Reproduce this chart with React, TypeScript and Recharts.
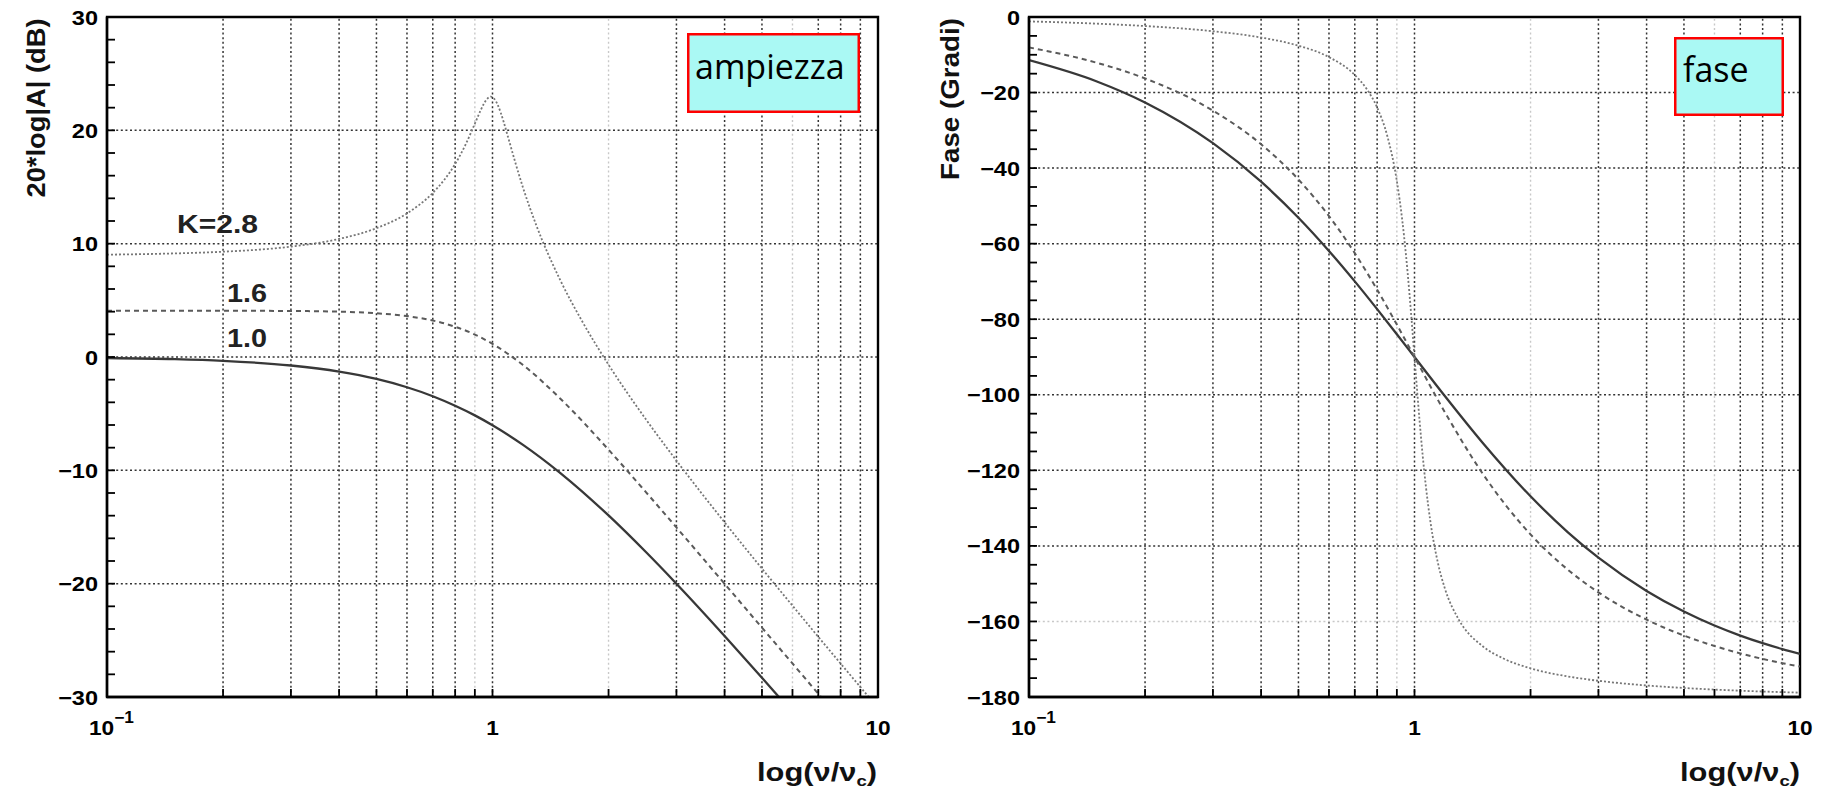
import React from 'react';
import { LineChart, Line, XAxis, YAxis, ReferenceLine, ReferenceArea } from 'recharts';

// ---- data ----
const freqA = [0.1, 0.15, 0.2, 0.3, 0.4, 0.5, 0.6, 0.7, 0.8, 0.9, 1.0, 1.2, 1.5, 2, 2.5, 3, 4, 5, 6, 7, 8, 9, 10];
const ampK10 = [-0.09, -0.19, -0.34, -0.75, -1.29, -1.94, -2.67, -3.46, -4.3, -5.15, -6.02, -7.75, -10.24, -13.98, -17.21, -20.0, -24.61, -28.3, -31.36, -33.98, -36.26, -38.28, -40.09];
const phaseK10 = [-11.42, -17.06, -22.62, -33.4, -43.6, -53.13, -61.93, -69.98, -77.32, -83.97, -90, -100.39, -112.62, -126.87, -136.4, -143.13, -151.93, -157.38, -161.08, -163.74, -165.75, -167.32, -168.58];
const ampK16 = [4.08, 4.08, 4.08, 4.06, 4.0, 3.86, 3.61, 3.22, 2.67, 1.98, 1.16, -0.71, -3.68, -8.18, -11.92, -15.04, -20.01, -23.88, -27.04, -29.72, -32.04, -34.09, -35.92];
const phaseK16 = [-8.05, -12.12, -16.26, -24.78, -33.69, -43.03, -52.7, -62.51, -72.18, -81.42, -90, -104.68, -120.76, -136.97, -146.31, -152.3, -159.53, -163.74, -166.5, -168.46, -169.92, -171.05, -171.95];

const freqB = [0.1, 0.15, 0.2, 0.3, 0.4, 0.5, 0.6, 0.7, 0.75, 0.8, 0.85, 0.9, 0.93, 0.95, 0.97, 0.98, 0.99, 1.0, 1.01, 1.02, 1.03, 1.05, 1.07, 1.1, 1.15, 1.2, 1.3, 1.5, 1.7, 2, 2.5, 3, 4, 5, 6, 7, 8, 9, 10];
const ampK28 = [9.03, 9.14, 9.29, 9.74, 10.42, 11.37, 12.67, 14.48, 15.64, 17.03, 18.69, 20.59, 21.71, 22.35, 22.8, 22.92, 22.97, 22.92, 22.79, 22.58, 22.3, 21.57, 20.7, 19.28, 16.99, 14.94, 11.59, 6.76, 3.28, -0.68, -5.5, -9.14, -14.59, -18.67, -21.94, -24.69, -27.05, -29.12, -30.97];
const phaseK28 = [-1.16, -1.76, -2.39, -3.77, -5.44, -7.59, -10.62, -15.35, -18.92, -23.96, -31.49, -43.45, -54.0, -62.83, -73.06, -78.58, -84.26, -90, -95.68, -101.2, -106.47, -116.02, -124.1, -133.67, -144.5, -151.39, -159.35, -166.5, -169.8, -172.41, -174.56, -175.71, -176.95, -177.61, -178.04, -178.33, -178.55, -178.71, -178.84];

const kLabels = ['K=2.8', '1.6', '1.0'];

// ---- axes / ticks ----
const freqTicks = [0.1, 0.2, 0.3, 0.4, 0.5, 0.6, 0.7, 0.8, 0.9, 1, 2, 3, 4, 5, 6, 7, 8, 9, 10];
const freqGrid = [0.2, 0.3, 0.4, 0.5, 0.6, 0.7, 0.8, 0.9, 1, 2, 3, 4, 5, 6, 7, 8, 9];
const freqGridLight = [0.9, 2, 6];
const ampTicks = [-30, -28, -26, -24, -22, -20, -18, -16, -14, -12, -10, -8, -6, -4, -2, 0, 2, 4, 6, 8, 10, 12, 14, 16, 18, 20, 22, 24, 26, 28, 30];
const ampGrid = [20, 10, 0, -10, -20];
const phaseTicks = [-180, -175, -170, -165, -160, -155, -150, -145, -140, -135, -130, -125, -120, -115, -110, -105, -100, -95, -90, -85, -80, -75, -70, -65, -60, -55, -50, -45, -40, -35, -30, -25, -20, -15, -10, -5, 0];
const phaseGrid = [-20, -40, -60, -80, -100, -120, -140, -160];
const phaseGridLight = [-160];

const zip = (xs: number[], ys: number[]) => xs.map((x, i) => ({ x, y: ys[i] }));

const dK10 = zip(freqA, ampK10);
const dK16 = zip(freqA, ampK16);
const dK28 = zip(freqB, ampK28);
const pK10 = zip(freqA, phaseK10);
const pK16 = zip(freqA, phaseK16);
const pK28 = zip(freqB, phaseK28);

// ---- layout ----
const H = 792;
const PLOT_TOP = 17;
const PLOT_H = 680;
const PLOT_W = 771;
const X_AXIS_H = H - PLOT_TOP - PLOT_H;
const LEFT_W = 930;
const LEFT_YAXIS = 107;
const RIGHT_W = 897;
const RIGHT_YAXIS = 99;
const TICK_FONT = "'Liberation Sans', Arial, Helvetica, sans-serif";

const styleK10 = { stroke: '#383838', strokeWidth: 2.3 };
const styleK16 = { stroke: '#5a5a5a', strokeWidth: 2, strokeDasharray: '5 4' };
const styleK28 = { stroke: '#777', strokeWidth: 1.8, strokeDasharray: '2 2' };

const gridStyle = { stroke: '#333', strokeWidth: 1.5, strokeDasharray: '2 2.6' };
const gridLightStyle = { stroke: '#c8c8c8', strokeWidth: 1.4, strokeDasharray: '2 2.6' };

const fmt = (v: number) => (v < 0 ? '\u2212' + Math.abs(v) : String(v));

const makeYTick = (step: number, labelX: number) => (props: any) => {
  const { y, payload } = props;
  const v = payload.value;
  if (Math.abs(v % step) > 1e-9) return <g />;
  return (
    <text
      transform={`translate(${labelX},${y}) scale(1.12,1)`}
      x={0}
      y={0}
      dy="0.36em"
      textAnchor="end"
      fontFamily={TICK_FONT}
      fontWeight="bold"
      fontSize={21}
      fill="#000"
    >
      {fmt(v)}
    </text>
  );
};

const XTick = (props: any) => {
  const { x, payload } = props;
  const v = payload.value;
  const ly = PLOT_TOP + PLOT_H + 30;
  if (v === 0.1) {
    return (
      <text transform={`translate(${x - 18},${ly}) scale(1.08,1)`} x={0} y={0} dy="0.36em" textAnchor="start" fontFamily={TICK_FONT} fontWeight="bold" fontSize={21} fill="#000">
        10
        <tspan dy={-12} fontSize={16}>{'\u2212'}1</tspan>
      </text>
    );
  }
  if (v === 1 || v === 10) {
    return (
      <text transform={`translate(${x},${ly}) scale(1.08,1)`} x={0} y={0} dy="0.36em" textAnchor="middle" fontFamily={TICK_FONT} fontWeight="bold" fontSize={21} fill="#000">
        {String(v)}
      </text>
    );
  }
  return <g />;
};

function Panel(props: {
  width: number;
  yAxisWidth: number;
  domain: [number, number];
  ticks: number[];
  step: number;
  hGrid: number[];
  hGridLight: number[];
  series: { data: { x: number; y: number }[]; style: any; name: string }[];
}) {
  const { width, yAxisWidth, domain, ticks, step, hGrid, hGridLight, series } = props;
  return (
    <LineChart
      width={width}
      height={H}
      margin={{ top: PLOT_TOP, right: width - yAxisWidth - PLOT_W, bottom: 0, left: 0 }}
    >
      <XAxis
        dataKey="x"
        type="number"
        scale="log"
        domain={[0.1, 10]}
        allowDataOverflow
        ticks={freqTicks}
        interval={0}
        height={X_AXIS_H}
        tickSize={-8}
        tickLine={{ stroke: '#000', strokeWidth: 1.8 }}
        axisLine={{ stroke: '#000', strokeWidth: 2.4 }}
        tick={XTick}
      />
      <YAxis
        type="number"
        domain={domain}
        allowDataOverflow
        ticks={ticks}
        interval={0}
        width={yAxisWidth}
        tickSize={-8}
        tickLine={{ stroke: '#000', strokeWidth: 1.8 }}
        axisLine={{ stroke: '#000', strokeWidth: 2.4 }}
        tick={makeYTick(step, yAxisWidth - 9)}
      />
      {freqGrid.map((f) => (
        <ReferenceLine key={'v' + f} x={f} {...(freqGridLight.includes(f) ? gridLightStyle : gridStyle)} />
      ))}
      {hGrid.map((g) => (
        <ReferenceLine key={'h' + g} y={g} {...(hGridLight.includes(g) ? gridLightStyle : gridStyle)} />
      ))}
      {series.map((s) => (
        <Line
          key={s.name}
          data={s.data}
          dataKey="y"
          type="monotone"
          dot={false}
          activeDot={false}
          isAnimationActive={false}
          {...s.style}
        />
      ))}
      <ReferenceArea x1={0.1} x2={10} y1={domain[0]} y2={domain[1]} fill="none" stroke="#000" strokeWidth={2.4} />
    </LineChart>
  );
}

export default function App() {
  const titleFont = TICK_FONT;
  return (
    <div style={{ position: 'absolute', left: 0, top: 0, width: 1827, height: H, background: '#fff' }}>
      <div style={{ position: 'absolute', left: 0, top: 0 }}>
        <Panel
          width={LEFT_W}
          yAxisWidth={LEFT_YAXIS}
          domain={[-30, 30]}
          ticks={ampTicks}
          step={10}
          hGrid={ampGrid}
          hGridLight={[]}
          series={[
            { data: dK10, style: styleK10, name: 'K=1.0' },
            { data: dK16, style: styleK16, name: 'K=1.6' },
            { data: dK28, style: styleK28, name: 'K=2.8' },
          ]}
        />
      </div>
      <div style={{ position: 'absolute', left: LEFT_W, top: 0 }}>
        <Panel
          width={RIGHT_W}
          yAxisWidth={RIGHT_YAXIS}
          domain={[-180, 0]}
          ticks={phaseTicks}
          step={20}
          hGrid={phaseGrid}
          hGridLight={phaseGridLight}
          series={[
            { data: pK10, style: styleK10, name: 'K=1.0' },
            { data: pK16, style: styleK16, name: 'K=1.6' },
            { data: pK28, style: styleK28, name: 'K=2.8' },
          ]}
        />
      </div>
      <svg width={1827} height={H} style={{ position: 'absolute', left: 0, top: 0, pointerEvents: 'none' }}>
        {/* axis titles */}
        <text transform="translate(45,108) rotate(-90)" textAnchor="middle" fontFamily={titleFont} fontWeight="bold" fontSize={26} textLength={179} lengthAdjust="spacingAndGlyphs" fill="#111">
          20*log|A| (dB)
        </text>
        <text transform="translate(959,99) rotate(-90)" textAnchor="middle" fontFamily={titleFont} fontWeight="bold" fontSize={26} textLength={162} lengthAdjust="spacingAndGlyphs" fill="#111">
          Fase (Gradi)
        </text>
        <text x={757} y={781} fontFamily={titleFont} fontWeight="bold" fontSize={25} textLength={120} lengthAdjust="spacingAndGlyphs" fill="#111">
          log({'\u03bd'}/{'\u03bd'}<tspan dy={5} fontSize={15}>c</tspan><tspan dy={-5}>)</tspan>
        </text>
        <text x={1680} y={781} fontFamily={titleFont} fontWeight="bold" fontSize={25} textLength={120} lengthAdjust="spacingAndGlyphs" fill="#111">
          log({'\u03bd'}/{'\u03bd'}<tspan dy={5} fontSize={15}>c</tspan><tspan dy={-5}>)</tspan>
        </text>
        {/* curve labels */}
        <text x={177} y={233} fontFamily={titleFont} fontWeight="bold" fontSize={25} textLength={81} lengthAdjust="spacingAndGlyphs" fill="#222">{kLabels[0]}</text>
        <text x={227} y={302} fontFamily={titleFont} fontWeight="bold" fontSize={25} textLength={40} lengthAdjust="spacingAndGlyphs" fill="#222">{kLabels[1]}</text>
        <text x={227} y={347} fontFamily={titleFont} fontWeight="bold" fontSize={25} textLength={40} lengthAdjust="spacingAndGlyphs" fill="#222">{kLabels[2]}</text>
        {/* boxes */}
        <rect x={688.25} y={34.25} width={170.5} height={77.5} fill="#aaf9f4" stroke="#ff0000" strokeWidth={2.5} />
        <text x={695} y={79} fontFamily="'Open Sans', 'Noto Sans', sans-serif" fontSize={34} fill="#000">ampiezza</text>
        <rect x={1675.25} y={38.25} width={107.5} height={76.5} fill="#aaf9f4" stroke="#ff0000" strokeWidth={2.5} />
        <text x={1683} y={82} fontFamily="'Open Sans', 'Noto Sans', sans-serif" fontSize={34} fill="#000">fase</text>
      </svg>
    </div>
  );
}
